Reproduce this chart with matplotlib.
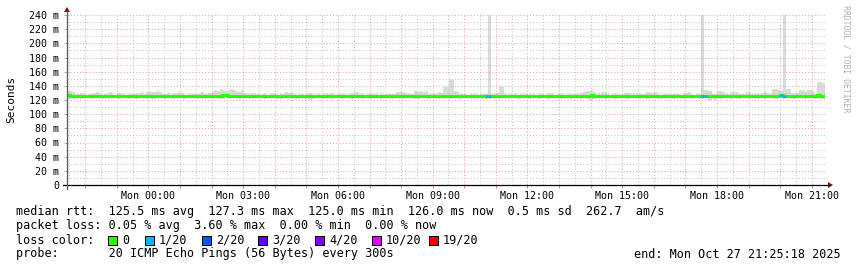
import numpy as np
import matplotlib
matplotlib.use('Agg')
import matplotlib.pyplot as plt
from matplotlib.ticker import MultipleLocator, FuncFormatter
from matplotlib.lines import Line2D
from matplotlib.patches import Polygon, Rectangle

# 288 samples of 5 min, Sun 21:25:18 .. Mon 21:25:18 (hours relative to Mon 00:00)
start_h = -(2 + 34 / 60 + 42 / 3600)
step_h = 5 / 60

median_ms = [
    126.4, 126.1, 125.6, 125.4, 125.5, 125.3, 125.6, 125.4, 125.3, 125.5, 125.6, 125.4, 125.3, 125.4, 125.6, 125.5, 125.4, 125.3, 125.5, 125.6, 125.4, 125.5, 125.3, 125.4,
    125.4, 125.5, 125.6, 125.4, 125.3, 125.5, 125.7, 125.6, 125.4, 125.5, 125.8, 125.6, 125.4, 125.3, 125.5, 125.4, 125.3, 125.4, 125.6, 125.5, 125.3, 125.4, 125.5, 125.6,
    125.5, 125.4, 125.6, 125.7, 125.5, 125.6, 125.8, 125.9, 126.1, 126.0, 126.3, 127.3, 126.8, 126.2, 126.0, 125.9, 125.7, 125.6, 125.8, 125.5, 125.4, 125.3, 125.5, 125.4,
    125.3, 125.4, 125.5, 125.3, 125.2, 125.4, 125.5, 125.3, 125.2, 125.4, 125.3, 125.6, 125.5, 125.6, 125.4, 125.3, 125.2, 125.4, 125.3, 125.2, 125.4, 125.3, 125.2, 125.3,
    125.2, 125.3, 125.4, 125.3, 125.5, 125.3, 125.2, 125.3, 125.4, 125.3, 125.2, 125.3, 125.5, 125.6, 125.5, 125.4, 125.3, 125.2, 125.3, 125.4, 125.3, 125.4, 125.2, 125.3,
    125.2, 125.3, 125.3, 125.4, 125.3, 125.6, 125.5, 125.6, 125.4, 125.3, 125.4, 125.3, 125.6, 125.5, 125.7, 125.5, 125.6, 125.4, 125.3, 125.5, 125.4, 125.6, 125.5, 125.8,
    125.9, 126.3, 126.2, 125.7, 125.6, 125.4, 125.5, 125.3, 125.2, 125.3, 125.4, 125.3, 125.2, 125.3, 125.4, 125.1, 125.0, 125.3, 125.2, 125.4, 125.9, 125.8, 125.4, 125.3,
    125.2, 125.3, 125.2, 125.3, 125.4, 125.3, 125.2, 125.3, 125.3, 125.4, 125.2, 125.3, 125.4, 125.3, 125.2, 125.4, 125.3, 125.2, 125.3, 125.4, 125.3, 125.2, 125.3, 125.4,
    125.3, 125.4, 125.3, 125.5, 125.6, 125.9, 126.2, 126.4, 126.0, 125.5, 125.4, 125.6, 125.5, 125.3, 125.2, 125.3, 125.4, 125.3, 125.2, 125.3, 125.5, 125.4, 125.3, 125.4,
    125.5, 125.3, 125.4, 125.3, 125.6, 125.5, 125.4, 125.6, 125.3, 125.2, 125.3, 125.4, 125.3, 125.2, 125.3, 125.4, 125.3, 125.2, 125.5, 125.4, 125.6, 125.3, 125.4, 125.5,
    125.6, 125.0, 125.7, 125.8, 125.6, 125.5, 125.7, 125.9, 125.8, 125.6, 125.5, 125.4, 125.6, 125.7, 125.5, 125.4, 125.6, 125.5, 125.7, 125.6, 125.4, 125.5, 125.6, 125.7,
    125.8, 125.9, 125.7, 125.6, 126.0, 126.2, 126.1, 126.5, 125.0, 125.8, 125.9, 125.6, 125.5, 125.7, 126.0, 126.1, 125.9, 126.2, 126.3, 126.1, 125.8, 126.4, 126.2, 126.0,
]

# fastest / slowest ping of each round (smoke)
smoke_lo = [
    122, 123, 123, 124, 123, 122, 123, 124, 123, 122, 123, 124, 123, 122, 123, 124, 123, 123, 124, 122, 123, 124, 123, 122,
    123, 124, 122, 123, 124, 123, 122, 123, 121, 122, 123, 124, 123, 122, 124, 123, 122, 123, 124, 123, 122, 123, 124, 123,
    123, 122, 124, 123, 122, 123, 124, 122, 123, 122, 121, 122, 123, 122, 123, 124, 123, 122, 123, 124, 123, 122, 123, 124,
    123, 124, 123, 122, 123, 124, 123, 122, 121, 122, 123, 124, 123, 122, 123, 122, 123, 124, 122, 121, 120, 121, 123, 124,
    123, 122, 124, 123, 122, 123, 124, 123, 122, 123, 124, 123, 122, 123, 124, 123, 122, 124, 123, 122, 123, 124, 123, 122,
    123, 124, 123, 122, 123, 124, 123, 122, 123, 124, 123, 122, 121, 122, 123, 124, 123, 122, 123, 124, 123, 122, 123, 122,
    123, 122, 123, 124, 123, 122, 123, 124, 123, 122, 123, 124, 123, 122, 123, 121, 122, 123, 124, 123, 122, 123, 124, 123,
    123, 124, 123, 122, 123, 124, 123, 122, 123, 124, 123, 122, 123, 124, 121, 122, 123, 124, 123, 122, 123, 124, 123, 122,
    123, 124, 123, 122, 123, 121, 120, 120, 121, 123, 124, 123, 122, 123, 124, 123, 122, 123, 124, 123, 121, 122, 123, 124,
    123, 122, 124, 123, 122, 123, 124, 123, 122, 121, 122, 123, 124, 123, 122, 123, 124, 123, 122, 124, 123, 122, 123, 124,
    122, 121, 123, 120, 120, 121, 120, 122, 121, 123, 124, 123, 122, 123, 121, 122, 123, 124, 123, 122, 123, 124, 122, 123,
    123, 122, 123, 124, 123, 122, 123, 124, 122, 123, 124, 123, 122, 123, 124, 123, 122, 123, 124, 123, 122, 123, 121, 122,
]
smoke_hi = [
    133, 133, 132, 129, 128, 130, 128, 127, 129, 128, 130, 131, 128, 127, 128, 129, 131, 128, 127, 130, 128, 129, 127, 128,
    128, 129, 130, 128, 131, 129, 132, 133, 132, 131, 133, 132, 129, 128, 130, 127, 128, 129, 131, 130, 128, 127, 129, 128,
    129, 128, 130, 131, 128, 129, 130, 132, 134, 133, 135, 134, 133, 134, 135, 134, 133, 131, 134, 130, 129, 128, 130, 129,
    128, 127, 129, 128, 127, 128, 130, 128, 127, 129, 128, 131, 130, 131, 128, 127, 128, 129, 127, 128, 130, 128, 127, 128,
    127, 128, 129, 128, 130, 128, 127, 128, 129, 128, 127, 128, 130, 131, 131, 129, 128, 127, 128, 130, 128, 129, 127, 128,
    127, 128, 128, 129, 128, 132, 131, 132, 130, 128, 129, 128, 133, 132, 133, 131, 133, 129, 128, 130, 129, 131, 130, 138,
    138, 149, 148, 133, 132, 128, 129, 128, 127, 128, 129, 128, 127, 128, 129, 128, 240, 129, 128, 130, 140, 139, 129, 127,
    128, 127, 128, 127, 128, 129, 128, 127, 128, 128, 127, 128, 129, 127, 128, 130, 128, 127, 128, 129, 128, 127, 128, 129,
    128, 129, 128, 130, 131, 133, 133, 134, 132, 129, 128, 131, 131, 128, 127, 128, 129, 128, 127, 128, 130, 130, 129, 130,
    130, 128, 129, 128, 131, 131, 130, 131, 128, 127, 128, 129, 128, 127, 128, 129, 128, 127, 130, 130, 131, 128, 127, 128,
    129, 240, 134, 134, 133, 128, 129, 133, 133, 132, 129, 128, 132, 132, 131, 128, 129, 128, 131, 131, 128, 129, 130, 128,
    130, 131, 129, 128, 135, 135, 134, 133, 240, 136, 136, 130, 129, 130, 134, 134, 133, 134, 134, 133, 129, 145, 145, 144,
]

# rounds with lost pings (index of sample, pings lost out of 20)
loss_steps = [159, 160, 241, 242, 271, 272]
loss_counts = [1, 1, 1, 1, 1, 1]

loss_levels = [0, 1, 2, 3, 4, 10, 19]
loss_labels = ['0', '1/20', '2/20', '3/20', '4/20', '10/20', '19/20']
loss_colors = ['#26ff00', '#00b8ff', '#0059ff', '#5e00ff', '#7e00ff', '#dd00ff', '#ff0000']

W, H = 857, 267
MONO = 'DejaVu Sans Mono'


def fx(x):
    return x / W


def fy(y):
    return 1 - y / H


def loss_color(n):
    c = loss_colors[0]
    for lvl, col in zip(loss_levels, loss_colors):
        if n >= lvl:
            c = col
    return c


n = len(median_ms)
edges = start_h + np.arange(n + 1) * step_h
t = edges[:-1]
lo = np.array(smoke_lo, dtype=float)
hi = np.array(smoke_hi, dtype=float)
med = np.array(median_ms)

fig = plt.figure(figsize=(W / 100, H / 100), dpi=100)
ax = fig.add_axes([fx(67), fy(185), 758 / W, 170 / H])

ax.bar(t, hi - lo, bottom=lo, width=step_h, align='edge', color='#dadada',
       linewidth=0, zorder=1)
ax.stairs(med, edges, baseline=None, color=loss_colors[0], linewidth=2.2, zorder=3)
ls = np.array(loss_steps)
ax.hlines(med[ls], t[ls], t[ls] + step_h,
          colors=[loss_color(c) for c in loss_counts], linewidth=2.2, zorder=4)

ax.set_xlim(edges[0], edges[-1])
ax.set_ylim(0, 240)

ax.xaxis.set_major_locator(MultipleLocator(1))
ax.xaxis.set_minor_locator(MultipleLocator(0.5))
ax.yaxis.set_major_locator(MultipleLocator(20))
ax.yaxis.set_minor_locator(MultipleLocator(10))


def xfmt(v, pos):
    h = int(round(v))
    if h >= 0 and h % 3 == 0:
        return 'Mon %02d:00' % h
    return ''


def yfmt(v, pos):
    v = int(round(v))
    return '0' if v == 0 else '%d m' % v


ax.xaxis.set_major_formatter(FuncFormatter(xfmt))
ax.yaxis.set_major_formatter(FuncFormatter(yfmt))

ax.set_axisbelow(False)
ax.grid(which='major', color='#eca4a4', linestyle=(0, (1, 2)), linewidth=0.75)
ax.grid(which='minor', color='#c6c6c6', linestyle=(0, (1, 2)), linewidth=0.75)

ax.tick_params(axis='x', which='major', length=2, width=0.7, color='#d08080',
               pad=2.5, labelsize=7.2)
ax.tick_params(axis='x', which='minor', length=0)
ax.tick_params(axis='y', which='major', length=2, width=0.7, color='#aaaaaa',
               pad=3.5, labelsize=7.2)
ax.tick_params(axis='y', which='minor', length=0)
for lab in ax.get_xticklabels() + ax.get_yticklabels():
    lab.set_family(MONO)

for sp in ax.spines.values():
    sp.set_visible(False)

# axes with arrow heads
fig.add_artist(Line2D([fx(63), fx(828)], [fy(185), fy(185)], color='black', lw=0.9))
fig.add_artist(Line2D([fx(67), fx(67)], [fy(189), fy(11)], color='#555555', lw=0.9))
fig.add_artist(Polygon([[fx(828), fy(182)], [fx(833), fy(185)], [fx(828), fy(188)]],
                       closed=True, color='#7f1010', lw=0))
fig.add_artist(Polygon([[fx(64), fy(12)], [fx(67), fy(7)], [fx(70), fy(12)]],
                       closed=True, color='#7f1010', lw=0))

fig.text(fx(11), fy(99), 'Seconds', rotation=90, ha='center', va='center',
         family=MONO, fontsize=8)
fig.text(fx(846), fy(5), 'RRDTOOL / TOBI OETIKER', rotation=270, ha='center',
         va='top', family=MONO, fontsize=5.9, color='#b0b0b0')

# legend block
fs = 8.5
fig.text(fx(16), fy(211),
         'median rtt:  125.5 ms avg  127.3 ms max  125.0 ms min  126.0 ms now  0.5 ms sd  262.7  am/s',
         family=MONO, fontsize=fs, va='center')
fig.text(fx(16), fy(226),
         'packet loss: 0.05 % avg  3.60 % max  0.00 % min  0.00 % now',
         family=MONO, fontsize=fs, va='center')
fig.text(fx(16), fy(240), 'loss color:', family=MONO, fontsize=fs, va='center')
sq_x = [108, 145, 202, 258, 315, 372, 429]
for x0, lab, col in zip(sq_x, loss_labels, loss_colors):
    fig.add_artist(Rectangle((fx(x0), fy(244.5)), 9 / W, 9 / H, facecolor=col,
                             edgecolor='black', lw=0.72))
    fig.text(fx(x0 + 14), fy(240), lab, family=MONO, fontsize=fs, va='center')
fig.text(fx(16), fy(254),
         'probe:       20 ICMP Echo Pings (56 Bytes) every 300s',
         family=MONO, fontsize=fs, va='center')
fig.text(fx(841), fy(254), 'end: Mon Oct 27 21:25:18 2025', family=MONO,
         fontsize=fs, va='center', ha='right')

fig.savefig('out.png', dpi=100)
